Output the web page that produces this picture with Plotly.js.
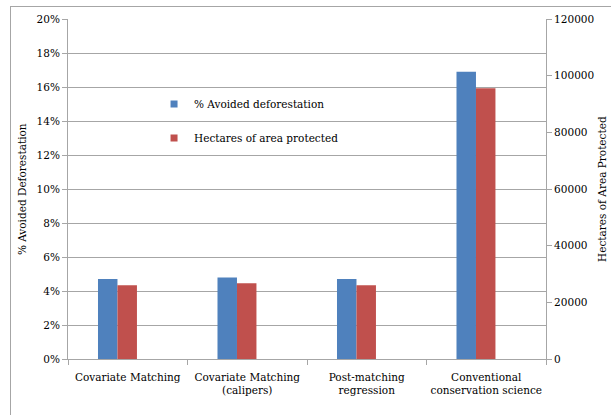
<!DOCTYPE html>
<html>
<head>
<meta charset="utf-8">
<script src="https://cdn.plot.ly/plotly-3.0.1.min.js"></script>
<style>
  html, body { margin:0; padding:0; background:#fff; }
  #frame { position:absolute; left:10px; top:6px; width:700px; height:500px; border:1px solid #a6a6a6; box-sizing:border-box; }
  #chart { position:absolute; left:0; top:0; width:611px; height:415px; }
</style>
</head>
<body>
<div id="frame"></div>
<div id="chart"></div>
<script>
const categories = [
  "Covariate Matching",
  "Covariate Matching<br>(calipers)",
  "Post-matching<br>regression",
  "Conventional<br>conservation science"
];
const avoidedDeforestationPct = [4.7, 4.8, 4.7, 16.9];
const hectaresProtected = [26000, 26700, 26000, 95600];
const leftTicks = [0, 2, 4, 6, 8, 10, 12, 14, 16, 18, 20];
const leftTickLabels = ["0%", "2%", "4%", "6%", "8%", "10%", "12%", "14%", "16%", "18%", "20%"];
const rightTicks = [0, 20000, 40000, 60000, 80000, 100000, 120000];
const rightTickLabels = ["0", "20000", "40000", "60000", "80000", "100000", "120000"];

const BLUE = "#4F81BD", RED = "#C0504D", GRID = "#a6a6a6";
const FONT = "DejaVu Serif";
const FS = 10.5;

const traces = [
  { type: "bar", x: categories, y: avoidedDeforestationPct, yaxis: "y",
    marker: { color: BLUE }, width: 0.163, offset: -0.249, showlegend: false, hoverinfo: "skip" },
  { type: "bar", x: categories, y: hectaresProtected, yaxis: "y2",
    marker: { color: RED }, width: 0.163, offset: -0.086, showlegend: false, hoverinfo: "skip" },
  { type: "scatter", mode: "markers", x: [null], y: [null], name: "% Avoided deforestation",
    marker: { color: BLUE, symbol: "square", size: 7 }, legendgroup: "a", showlegend: true },
  { type: "scatter", mode: "markers", x: [null], y: [null], name: "Hectares of area protected",
    marker: { color: RED, symbol: "square", size: 7 }, legendgroup: "b", showlegend: true }
];

const layout = {
  width: 611, height: 415,
  margin: { l: 68, r: 65, t: 19, b: 56 },
  paper_bgcolor: "rgba(0,0,0,0)",
  plot_bgcolor: "rgba(0,0,0,0)",
  font: { family: FONT, size: FS, color: "#000" },
  barmode: "overlay",
  showlegend: true,
  legend: {
    x: 0.18, y: 0.793, xanchor: "left", yanchor: "top",
    bgcolor: "rgba(0,0,0,0)", tracegroupgap: 15, traceorder: "grouped",
    font: { family: FONT, size: FS, color: "#000" }
  },
  xaxis: {
    type: "category", tickson: "boundaries", ticks: "outside", ticklen: 5,
    tickcolor: GRID, showline: true, linecolor: GRID, linewidth: 1,
    showgrid: false, tickangle: 0, tickfont: { family: FONT, size: FS, color: "#000" },
    ticklabelstandoff: 8, range: [-0.5, 3.5]
  },
  yaxis: {
    range: [0, 20], tickvals: leftTicks, ticktext: leftTickLabels,
    ticks: "outside", ticklen: 5, tickcolor: GRID,
    showline: true, linecolor: GRID, showgrid: true, gridcolor: GRID, gridwidth: 1,
    zeroline: false, tickfont: { family: FONT, size: FS, color: "#000" }
  },
  yaxis2: {
    overlaying: "y", side: "right", range: [0, 120000], tickvals: rightTicks, ticktext: rightTickLabels,
    ticks: "outside", ticklen: 5, tickcolor: GRID,
    showline: true, linecolor: GRID, showgrid: false, zeroline: false,
    tickfont: { family: FONT, size: FS, color: "#000" }
  },
  annotations: [
    { text: "% Avoided Deforestation", xref: "paper", yref: "paper", x: -0.096, y: 0.5,
      textangle: -90, showarrow: false, xanchor: "center", yanchor: "middle",
      font: { family: FONT, size: FS, color: "#000" } },
    { text: "Hectares of Area Protected", xref: "paper", yref: "paper", x: 1.117, y: 0.5,
      textangle: -90, showarrow: false, xanchor: "center", yanchor: "middle",
      font: { family: FONT, size: FS, color: "#000" } }
  ]
};

Plotly.newPlot("chart", traces, layout, { staticPlot: true, displayModeBar: false });
</script>
</body>
</html>
